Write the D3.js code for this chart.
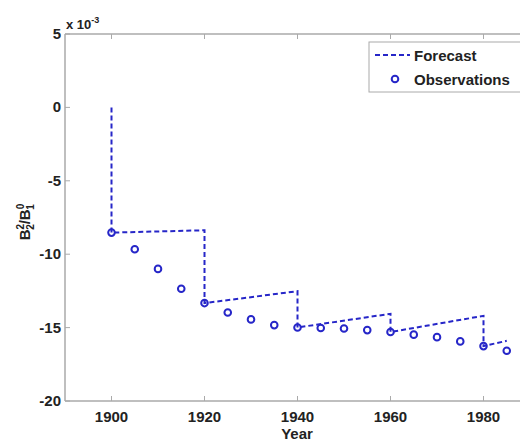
<!DOCTYPE html>
<html>
<head>
<meta charset="utf-8">
<script src="https://cdn.jsdelivr.net/npm/d3@7"></script>
<style>
  body { margin: 0; background: #fff; }
  text { font-family: "Liberation Sans", Arial, sans-serif; font-weight: bold; fill: #222; }
</style>
</head>
<body>
<div id="chart"></div>
<script>
// observations every 5 years (units of 1e-3)
var obsYears = [1900, 1905, 1910, 1915, 1920, 1925, 1930, 1935, 1940, 1945, 1950, 1955, 1960, 1965, 1970, 1975, 1980, 1985];
var obsValues = [-8.53, -9.66, -11.0, -12.35, -13.33, -13.97, -14.44, -14.83, -14.99, -15.03, -15.06, -15.17, -15.3, -15.48, -15.65, -15.94, -16.26, -16.58];

// forecast path (steps, reset at each observation every 20 years)
var fcYears = [1900, 1900, 1920, 1920, 1940, 1940, 1960, 1960, 1980, 1980, 1985];
var fcValues = [0, -8.53, -8.37, -13.33, -12.52, -14.99, -14.06, -15.3, -14.2, -16.26, -15.9];

var xTicks = [1900, 1920, 1940, 1960, 1980];
var yTicks = [5, 0, -5, -10, -15, -20];

var width = 520, height = 441;
var blue = "#2626c8";

var svg = d3.select("#chart").append("svg")
    .attr("width", width)
    .attr("height", height);

var x = d3.scaleLinear().domain([1890, 1990]).range([65, 530]);
var y = d3.scaleLinear().domain([-20, 5]).range([401, 34]);

// frame
var axisColor = "#aaa";
svg.append("line").attr("x1", 65).attr("x2", 530).attr("y1", 34).attr("y2", 34)
    .attr("stroke", axisColor).attr("stroke-width", 1.5);
svg.append("line").attr("x1", 65).attr("x2", 530).attr("y1", 401).attr("y2", 401)
    .attr("stroke", axisColor).attr("stroke-width", 1.5);
svg.append("line").attr("x1", 65).attr("x2", 65).attr("y1", 34).attr("y2", 401)
    .attr("stroke", axisColor).attr("stroke-width", 1.5);

// x ticks (bottom + top, inward)
var xt = svg.append("g").selectAll("g").data(xTicks).enter().append("g");
xt.append("line").attr("x1", d => x(d)).attr("x2", d => x(d))
    .attr("y1", 401).attr("y2", 396).attr("stroke", axisColor);
xt.append("line").attr("x1", d => x(d)).attr("x2", d => x(d))
    .attr("y1", 34).attr("y2", 39).attr("stroke", axisColor);
xt.append("text").attr("x", d => x(d)).attr("y", 422)
    .attr("text-anchor", "middle").style("font-size", "15px")
    .text(d => d);

// y ticks
var yt = svg.append("g").selectAll("g").data(yTicks).enter().append("g");
yt.append("line").attr("x1", 65).attr("x2", 70)
    .attr("y1", d => y(d)).attr("y2", d => y(d)).attr("stroke", axisColor);
yt.append("text").attr("x", 61).attr("y", d => y(d) + 5)
    .attr("text-anchor", "end").style("font-size", "15px")
    .text(d => d);

// exponent
var ex = svg.append("text").attr("x", 66).attr("y", 29).style("font-size", "13px");
ex.append("tspan").text("x 10");
ex.append("tspan").attr("dy", -6).style("font-size", "9px").text("-3");

// axis labels
svg.append("text").attr("x", 297).attr("y", 439)
    .attr("text-anchor", "middle").style("font-size", "15px").text("Year");

var yl = svg.append("text")
    .attr("transform", "translate(30,222) rotate(-90)")
    .attr("text-anchor", "middle").style("font-size", "15px");
yl.append("tspan").text("B");
yl.append("tspan").attr("dy", -6).style("font-size", "10px").text("2");
yl.append("tspan").attr("dx", -6).attr("dy", 10).style("font-size", "10px").text("2");
yl.append("tspan").attr("dy", -4).text("/B");
yl.append("tspan").attr("dy", -6).style("font-size", "10px").text("0");
yl.append("tspan").attr("dx", -6).attr("dy", 10).style("font-size", "10px").text("1");

// forecast line
var fc = fcYears.map((d, i) => [d, fcValues[i]]);
var line = d3.line().x(d => x(d[0])).y(d => y(d[1]));
svg.append("path").datum(fc)
    .attr("d", line)
    .attr("fill", "none")
    .attr("stroke", blue)
    .attr("stroke-width", 2)
    .attr("stroke-dasharray", "5,3");

// observations
svg.append("g").selectAll("circle")
    .data(obsYears.map((d, i) => [d, obsValues[i]]))
    .enter().append("circle")
    .attr("cx", d => x(d[0])).attr("cy", d => y(d[1]))
    .attr("r", 3.3)
    .attr("fill", "none")
    .attr("stroke", blue)
    .attr("stroke-width", 2);

// legend
var lg = svg.append("g");
lg.append("rect").attr("x", 369).attr("y", 42).attr("width", 160).attr("height", 50)
    .attr("fill", "#fff").attr("stroke", axisColor).attr("stroke-width", 1);
lg.append("line").attr("x1", 375).attr("x2", 410).attr("y1", 55).attr("y2", 55)
    .attr("stroke", blue).attr("stroke-width", 2).attr("stroke-dasharray", "5,3");
lg.append("text").attr("x", 414).attr("y", 61).style("font-size", "15px").text("Forecast");
lg.append("circle").attr("cx", 395).attr("cy", 79).attr("r", 3.3)
    .attr("fill", "none").attr("stroke", blue).attr("stroke-width", 2);
lg.append("text").attr("x", 414).attr("y", 85).style("font-size", "15px").text("Observations");
</script>
</body>
</html>
